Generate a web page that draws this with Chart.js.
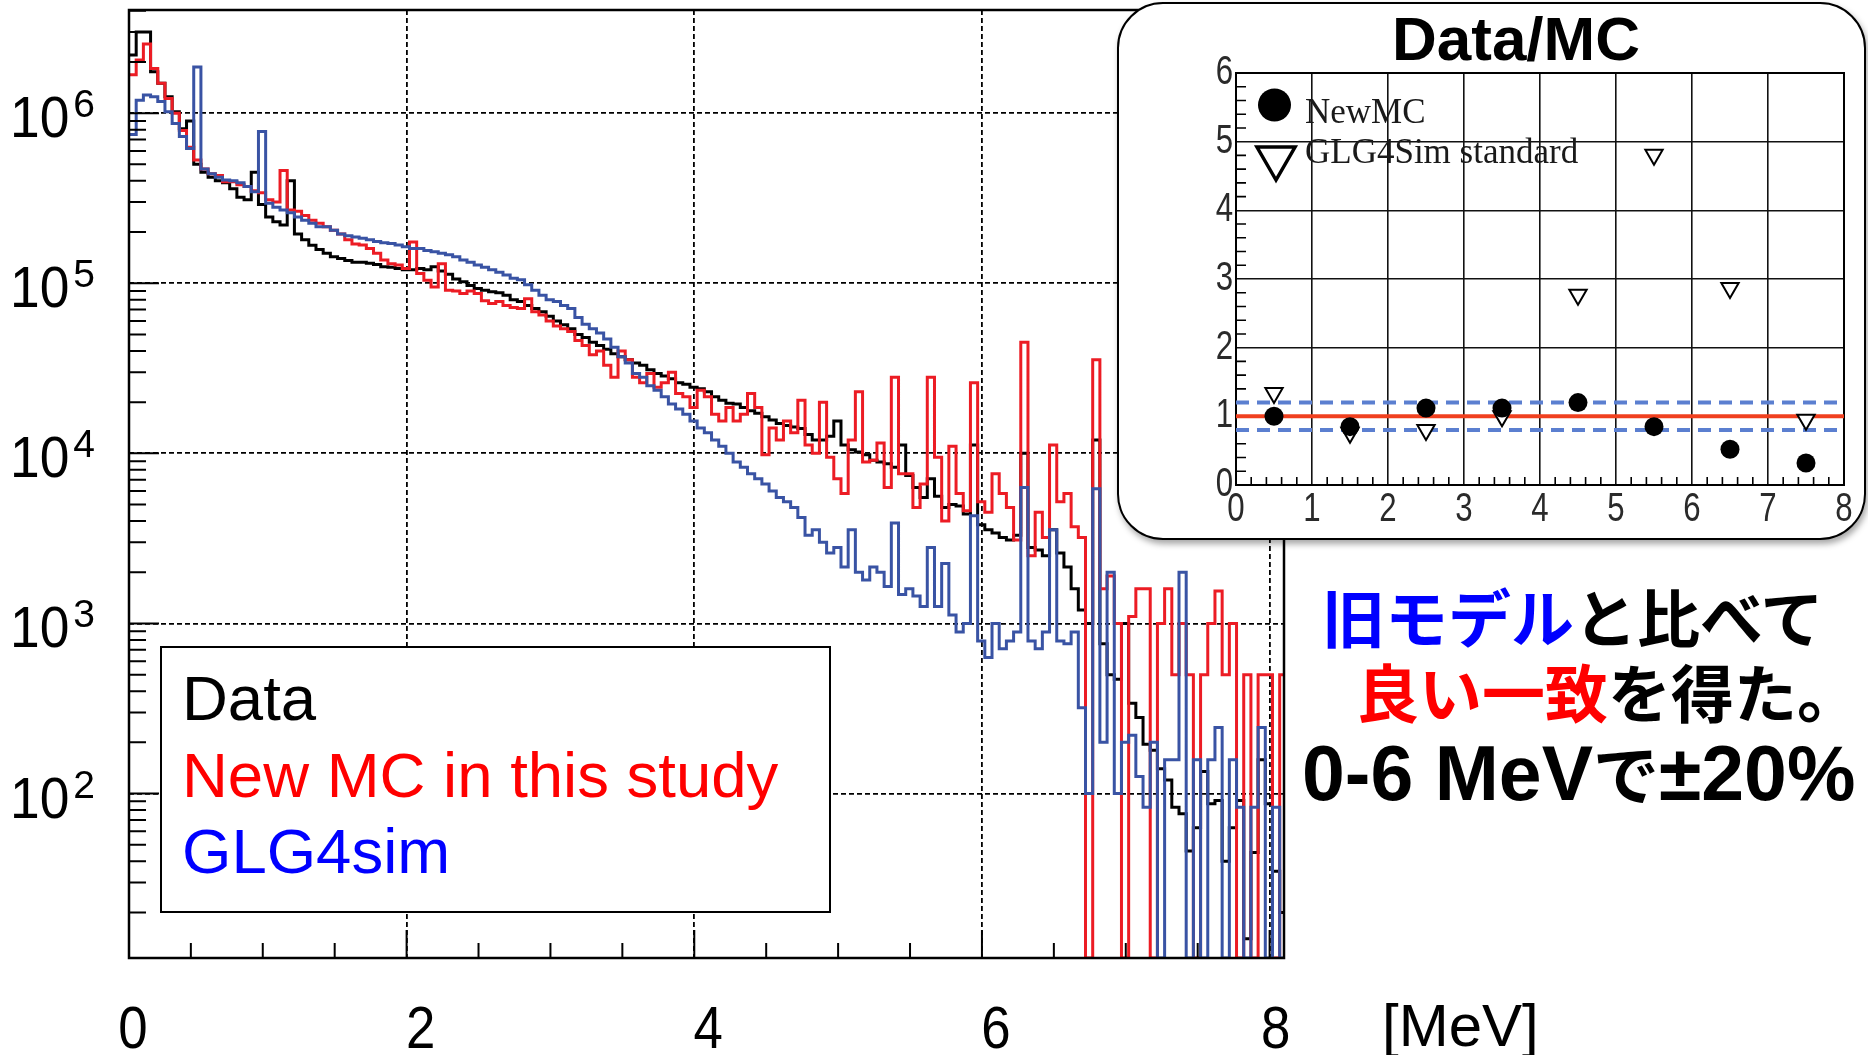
<!DOCTYPE html>
<html lang="ja">
<head>
<meta charset="UTF-8">
<title>Energy spectrum: Data vs MC</title>
<script src="https://cdn.jsdelivr.net/npm/chart.js"></script>
<style>
  body { margin: 0; width: 1868px; height: 1055px; position: relative; overflow: hidden; background: #fff; }
  #spectrum { position: absolute; left: 0; top: 0; }
  #ratioBox {
    position: absolute; left: 1117px; top: 2px; width: 745px; height: 534px;
    border: 2px solid #000; border-radius: 46px; background: #fff;
    box-shadow: 2px 4px 6px rgba(0, 0, 0, 0.35);
  }
  #ratio { position: absolute; left: 1117px; top: 2px; }
  .note { position: absolute; white-space: nowrap; font-weight: bold; color: #000; }
  .jp { font-family: "Noto Sans CJK JP", sans-serif; font-size: 63px; line-height: 63px; }
  .mixed { font-family: "Liberation Sans", "Noto Sans CJK JP", sans-serif; font-size: 77px; line-height: 77px; }
  .blue { color: #0000ff; }
  .red { color: #ff0000; }
</style>
</head>
<body>
<canvas id="spectrum" width="1868" height="1055"></canvas>
<div id="ratioBox"></div>
<canvas id="ratio" width="749" height="538"></canvas>
<div class="note jp" style="left:1322px; top:583px;"><span class="blue">旧モデル</span>と比べて</div>
<div class="note jp" style="left:1356px; top:658px;"><span class="red">良い一致</span>を得た。</div>
<div class="note mixed" style="left:1302px; top:733px;">0-6 MeV<span style="font-family:'Noto Sans CJK JP'; font-size:66px;">で</span>±20%</div>

<script>
// Energy binning of the spectra (MeV)
const binStart = 0.07;
const binWidth = 0.05;

// Counts per bin, 0 = empty bin
const dataCounts = [
  2.2e6, 3.0e6, 3.0e6, 1.75e6, 1.5e6, 1.25e6, 1.02e6, 8.1e5, 9.0e5, 5.0e5,
  4.5e5, 4.2e5, 4.0e5, 3.9e5, 3.6e5, 3.2e5, 3.1e5, 4.5e5, 2.9e5, 2.45e5,
  2.3e5, 2.2e5, 4.0e5, 1.95e5, 1.8e5, 1.67e5, 1.58e5, 1.5e5, 1.43e5, 1.4e5,
  1.36e5, 1.33e5, 1.33e5, 1.31e5, 1.29e5, 1.25e5, 1.24e5, 1.22e5, 1.2e5, 1.2e5,
  1.22e5, 1.2e5, 1.25e5, 1.18e5, 1.13e5, 1.06e5, 1.02e5, 9.7e4, 9.3e4, 9.1e4,
  8.9e4, 8.8e4, 8.5e4, 8.0e4, 7.8e4, 7.4e4, 7.1e4, 6.8e4, 6.4e4, 6.0e4,
  5.7e4, 5.4e4, 5.0e4, 4.8e4, 4.5e4, 4.3e4, 4.1e4, 3.85e4, 3.7e4, 3.55e4,
  3.4e4, 3.3e4, 3.1e4, 2.95e4, 2.85e4, 2.75e4, 2.6e4, 2.55e4, 2.45e4, 2.4e4,
  2.3e4, 2.15e4, 2.05e4, 1.97e4, 1.95e4, 1.86e4, 1.78e4, 1.72e4, 1.64e4, 1.57e4,
  1.5e4, 1.46e4, 1.43e4, 1.4e4, 1.29e4, 1.2e4, 1.2e4, 1.26e4, 1.55e4, 1.12e4,
  1.05e4, 1.02e4, 9.8e3, 9.1e3, 8.9e3, 8.7e3, 8.3e3, 1.12e4, 7.4e3, 6.3e3,
  5.5e3, 7.1e3, 5.6e3, 4.8e3, 5.0e3, 4.9e3, 4.4e3, 1.12e4, 3.8e3, 3.55e3,
  3.4e3, 3.2e3, 3.1e3, 3.3e3, 1.0e4, 2.8e3, 2.7e3, 2.5e3, 3.55e3, 2.6e3,
  2.15e3, 1.6e3, 1.2e3, 1.0e3, 1.2e4, 760, 500, 470, 1000, 340,
  280, 195, 180, 140, 120, 83, 76, 46, 63, 135,
  87, 91, 40, 63, 91, 14, 45, 158, 87, 35, 20
];

const newMcCounts = [
  1.68e6, 2.05e6, 2.55e6, 1.83e6, 1.5e6, 1.22e6, 1.0e6, 7.9e5, 6.3e5, 5.3e5,
  4.7e5, 4.4e5, 4.3e5, 3.95e5, 3.95e5, 3.8e5, 3.7e5, 3.5e5, 3.4e5, 3.1e5,
  3.0e5, 4.6e5, 2.7e5, 2.65e5, 2.5e5, 2.35e5, 2.25e5, 2.15e5, 2.05e5, 1.95e5,
  1.8e5, 1.7e5, 1.68e5, 1.6e5, 1.5e5, 1.37e5, 1.3e5, 1.28e5, 1.22e5, 1.75e5,
  1.14e5, 1.04e5, 9.5e4, 1.3e5, 9.1e4, 9.0e4, 8.7e4, 9.0e4, 8.7e4, 7.9e4,
  7.6e4, 7.8e4, 7.4e4, 7.2e4, 7.1e4, 8.1e4, 6.8e4, 6.5e4, 6.0e4, 5.6e4,
  5.4e4, 5.2e4, 4.6e4, 4.3e4, 3.8e4, 4.0e4, 3.3e4, 2.8e4, 4.0e4, 3.55e4,
  2.8e4, 2.6e4, 2.95e4, 2.45e4, 2.6e4, 3.0e4, 2.25e4, 2.15e4, 1.86e4, 2.35e4,
  2.15e4, 1.7e4, 1.55e4, 1.86e4, 1.55e4, 1.7e4, 2.25e4, 1.86e4, 9.8e3, 1.41e4,
  1.2e4, 1.55e4, 1.32e4, 2.05e4, 1.12e4, 1.0e4, 2.0e4, 9.5e3, 7.1e3, 5.8e3,
  1.2e4, 2.3e4, 8.9e3, 9.1e3, 1.15e4, 6.3e3, 2.8e4, 7.6e3, 7.6e3, 4.8e3,
  6.6e3, 2.8e4, 9.5e3, 4.0e3, 1.1e4, 5.8e3, 4.6e3, 2.6e4, 5.2e3, 4.5e3,
  7.6e3, 5.8e3, 4.8e3, 3.1e3, 4.5e4, 2.5e3, 4.5e3, 3.2e3, 1.12e4, 5.2e3,
  5.8e3, 3.7e3, 3.2e3, 0, 3.55e4, 1.6e3, 1.9e3, 1.0e3, 0, 1.1e3,
  1.6e3, 1.6e3, 0, 1.0e3, 1.6e3, 500, 1.0e3, 500, 0, 500,
  1.0e3, 1.55e3, 500, 1.0e3, 0, 500, 0, 500, 500, 0, 500
];

const glg4Counts = [
  7.5e5, 1.19e6, 1.28e6, 1.25e6, 1.17e6, 1.02e6, 8.7e5, 7.3e5, 6.2e5, 1.87e6,
  4.7e5, 4.4e5, 4.2e5, 4.05e5, 4.0e5, 3.9e5, 3.7e5, 3.45e5, 7.8e5, 2.95e5,
  2.8e5, 2.7e5, 2.6e5, 2.45e5, 2.35e5, 2.25e5, 2.15e5, 2.15e5, 2.05e5, 1.95e5,
  1.9e5, 1.87e5, 1.84e5, 1.8e5, 1.76e5, 1.73e5, 1.71e5, 1.68e5, 1.64e5, 1.6e5,
  1.6e5, 1.56e5, 1.53e5, 1.5e5, 1.47e5, 1.43e5, 1.37e5, 1.33e5, 1.28e5, 1.24e5,
  1.2e5, 1.16e5, 1.12e5, 1.07e5, 1.05e5, 9.8e4, 9.1e4, 8.5e4, 8.0e4, 7.8e4,
  7.4e4, 7.1e4, 6.3e4, 5.75e4, 5.4e4, 5.1e4, 4.7e4, 4.2e4, 3.7e4, 3.4e4,
  2.95e4, 2.8e4, 2.5e4, 2.35e4, 2.15e4, 1.95e4, 1.82e4, 1.7e4, 1.55e4, 1.41e4,
  1.32e4, 1.2e4, 1.1e4, 1.0e4, 8.9e3, 8.3e3, 7.6e3, 7.1e3, 6.6e3, 6.0e3,
  5.5e3, 5.2e3, 4.8e3, 4.2e3, 3.3e3, 3.55e3, 3.0e3, 2.6e3, 2.8e3, 2.15e3,
  3.55e3, 2.0e3, 1.8e3, 2.15e3, 2.0e3, 1.65e3, 3.9e3, 1.48e3, 1.6e3, 1.45e3,
  1.26e3, 2.8e3, 1.26e3, 2.25e3, 1.12e3, 890, 1.0e3, 4.3e3, 790, 630,
  1.0e3, 710, 790, 890, 6.3e3, 790, 710, 890, 3.55e3, 790,
  760, 890, 320, 100, 6.2e3, 200, 2.0e3, 100, 200, 220,
  126, 83, 200, 0, 158, 158, 2.0e3, 0, 158, 0,
  158, 245, 0, 158, 83, 0, 83, 245, 0, 83, 0
];

const seriesLabels = ['Data', 'New MC in this study', 'GLG4sim'];
const lineColors = ['#000000', '#ec1c24', '#3953a4'];
const labelColors = ['#000000', '#ff0000', '#0000ff'];

const xTickValues = [0, 2, 4, 6, 8];
const xGridValues = [2, 4, 6, 8];
const yTickExponents = [2, 3, 4, 5, 6];

const X_MIN = 0.07, X_MAX = 8.1;
const Y_MIN = 10.8, Y_MAX = 4.04e6;

// Data/MC ratio in 1 MeV bins
const ratioCenters = [0.5, 1.5, 2.5, 3.5, 4.5, 5.5, 6.5, 7.5];
const ratioNewMc = [1.0, 0.85, 1.12, 1.12, 1.2, 0.85, 0.52, 0.32];
const ratioGlg4 = [1.34, 0.76, 0.8, 1.0, 2.77, 4.81, 2.87, 0.95];
const ratioLabels = ['NewMC', 'GLG4Sim standard'];
const agreement = 1.0;
const band = 0.2;

const SANS = '"Liberation Sans", Arial, sans-serif';

function histPoints(counts) {
  const pts = counts.map((c, i) => ({ x: binStart + i * binWidth, y: c > 0 ? c : Y_MIN }));
  pts.push({ x: binStart + counts.length * binWidth, y: pts[pts.length - 1].y });
  return pts;
}

function squeezed(ctx, text, x, y, sx, align) {
  ctx.save();
  ctx.translate(x, y);
  ctx.scale(sx, 1);
  ctx.textAlign = align;
  ctx.fillText(text, 0, 0);
  ctx.restore();
}

// frame, log ticks, legend box and axis labels of the spectrum
const spectrumDecor = {
  id: 'spectrumDecor',
  afterDatasetsDraw(chart) {
    const { ctx, chartArea: a, scales: { x, y } } = chart;
    ctx.save();
    ctx.strokeStyle = '#000';
    ctx.lineWidth = 2;
    ctx.beginPath();
    for (let e = 1; e <= 6; e++) {
      for (let m = 1; m <= 9; m++) {
        const v = m * Math.pow(10, e);
        if (v < Y_MIN || v > Y_MAX) continue;
        const py = y.getPixelForValue(v);
        ctx.moveTo(a.left, py);
        ctx.lineTo(a.left + (m === 1 ? 30 : 17), py);
      }
    }
    for (let k = 1; k <= 16; k++) {
      const px = x.getPixelForValue(k * 0.5);
      ctx.moveTo(px, a.bottom);
      ctx.lineTo(px, a.bottom - (k % 4 === 0 ? 28 : 15));
    }
    ctx.stroke();
    ctx.lineWidth = 2.5;
    ctx.strokeRect(a.left, a.top, a.right - a.left, a.bottom - a.top);

    // legend
    const box = { left: 161, top: 647, width: 669, height: 265 };
    ctx.fillStyle = '#fff';
    ctx.fillRect(box.left, box.top, box.width, box.height);
    ctx.lineWidth = 2;
    ctx.strokeRect(box.left, box.top, box.width, box.height);
    ctx.font = '63.5px ' + SANS;
    ctx.textAlign = 'left';
    ctx.textBaseline = 'alphabetic';
    chart.data.datasets.forEach((ds, i) => {
      ctx.fillStyle = labelColors[i];
      ctx.fillText(ds.label, box.left + 21, box.top + 73 + i * 76.5);
    });
    ctx.restore();
  },
  afterDraw(chart) {
    const { ctx, scales: { x, y } } = chart;
    ctx.save();
    ctx.fillStyle = '#000';
    ctx.textBaseline = 'alphabetic';
    ctx.font = '60px ' + SANS;
    xTickValues.forEach(v => squeezed(ctx, String(v), x.getPixelForValue(v) + (v === 8 ? 6 : 14), 1048, 0.88, 'center'));
    ctx.textAlign = 'left';
    ctx.fillText('[MeV]', 1382, 1046);
    yTickExponents.forEach(p => {
      const py = y.getPixelForValue(Math.pow(10, p));
      ctx.font = '58px ' + SANS;
      const w = ctx.measureText('10').width * 0.92;
      squeezed(ctx, '10', 10, py + 24, 0.92, 'left');
      ctx.font = '39px ' + SANS;
      ctx.textAlign = 'left';
      ctx.fillText(String(p), 10 + w + 4, py + 4);
    });
    ctx.restore();
  }
};

const countsList = [dataCounts, newMcCounts, glg4Counts];

new Chart(document.getElementById('spectrum'), {
  type: 'line',
  data: {
    datasets: countsList.map((counts, i) => ({
      label: seriesLabels[i],
      data: histPoints(counts),
      borderColor: lineColors[i],
      order: 3 - i
    }))
  },
  options: {
    responsive: false,
    animation: false,
    layout: { padding: { left: 129, top: 10, right: 584, bottom: 97 } },
    elements: {
      line: { borderWidth: 3, stepped: 'before', tension: 0, fill: false },
      point: { radius: 0, hoverRadius: 0 }
    },
    plugins: { legend: { display: false }, tooltip: { enabled: false } },
    scales: {
      x: {
        type: 'linear', min: X_MIN, max: X_MAX,
        afterBuildTicks: s => { s.ticks = xGridValues.map(v => ({ value: v })); },
        ticks: { display: false },
        grid: { color: '#000', lineWidth: 1.8, drawTicks: false },
        border: { display: false, dash: [5, 3] },
        afterFit: s => { s.height = 0; }
      },
      y: {
        type: 'logarithmic', min: Y_MIN, max: Y_MAX,
        afterBuildTicks: s => { s.ticks = yTickExponents.map(p => ({ value: Math.pow(10, p) })); },
        ticks: { display: false },
        grid: { color: '#000', lineWidth: 1.8, drawTicks: false },
        border: { display: false, dash: [5, 3] },
        afterFit: s => { s.width = 0; }
      }
    }
  },
  plugins: [spectrumDecor]
});

// inset: frame, minor ticks, labels, legend and title
const ratioDecor = {
  id: 'ratioDecor',
  beforeDatasetsDraw(chart) {
    const { ctx, chartArea: a, scales: { x, y } } = chart;
    ctx.save();
    ctx.strokeStyle = '#000';
    ctx.lineWidth = 1.6;
    ctx.beginPath();
    for (let k = 1; k < 30; k++) {
      if (k % 5 === 0) continue;
      const py = y.getPixelForValue(k * 0.2);
      ctx.moveTo(a.left, py);
      ctx.lineTo(a.left + 10, py);
    }
    for (let k = 1; k < 40; k++) {
      if (k % 5 === 0) continue;
      const px = x.getPixelForValue(k * 0.2);
      ctx.moveTo(px, a.bottom);
      ctx.lineTo(px, a.bottom - 8);
    }
    ctx.stroke();
    ctx.lineWidth = 2;
    ctx.strokeRect(a.left, a.top, a.right - a.left, a.bottom - a.top);
    ctx.restore();
  },
  afterDraw(chart) {
    const { ctx, scales: { x, y } } = chart;
    ctx.save();
    ctx.fillStyle = '#2a2a2a';
    ctx.font = '40px ' + SANS;
    ctx.textBaseline = 'middle';
    for (let v = 0; v <= 6; v++) squeezed(ctx, String(v), 116, y.getPixelForValue(v), 0.78, 'right');
    ctx.textBaseline = 'alphabetic';
    for (let v = 0; v <= 8; v++) squeezed(ctx, String(v), x.getPixelForValue(v), 519, 0.78, 'center');

    // legend
    ctx.fillStyle = '#000';
    ctx.beginPath();
    ctx.arc(157.5, 103, 16.5, 0, Math.PI * 2);
    ctx.fill();
    const tx = 159, ty = 156, r = 22;
    ctx.beginPath();
    ctx.moveTo(tx, ty + r);
    ctx.lineTo(tx - r * 0.866, ty - r / 2);
    ctx.lineTo(tx + r * 0.866, ty - r / 2);
    ctx.closePath();
    ctx.lineWidth = 3.5;
    ctx.lineJoin = 'miter';
    ctx.strokeStyle = '#000';
    ctx.stroke();
    ctx.fillStyle = '#1a1a1a';
    ctx.font = '35px "Liberation Serif", "Times New Roman", serif';
    ctx.textAlign = 'left';
    ctx.fillText(ratioLabels[0], 188, 121);
    ctx.fillText(ratioLabels[1], 188, 161);

    ctx.fillStyle = '#000';
    ctx.font = 'bold 62px ' + SANS;
    ctx.textAlign = 'center';
    ctx.fillText('Data/MC', 399, 58);
    ctx.restore();
  }
};

const flatLine = (value, color, dash) => ({
  type: 'line',
  data: [{ x: 0, y: value }, { x: 8, y: value }],
  borderColor: color,
  borderWidth: 4,
  borderDash: dash,
  pointRadius: 0,
  order: 2
});

new Chart(document.getElementById('ratio'), {
  type: 'scatter',
  data: {
    datasets: [
      {
        label: ratioLabels[0],
        data: ratioCenters.map((c, i) => ({ x: c, y: ratioNewMc[i] })),
        pointStyle: 'circle', pointRadius: 9.5,
        pointBackgroundColor: '#000', pointBorderColor: '#000', pointBorderWidth: 0,
        order: 0
      },
      {
        label: ratioLabels[1],
        data: ratioCenters.map((c, i) => ({ x: c, y: ratioGlg4[i] })),
        pointStyle: 'triangle', pointRotation: 180, pointRadius: 10,
        pointBackgroundColor: '#fff', pointBorderColor: '#000', pointBorderWidth: 2,
        order: 1
      },
      flatLine(agreement, '#f0401f', []),
      flatLine(agreement + band, '#5b7fd0', [13, 8]),
      flatLine(agreement - band, '#5b7fd0', [13, 8])
    ]
  },
  options: {
    responsive: false,
    animation: false,
    layout: { padding: { left: 119, top: 71, right: 22, bottom: 55 } },
    plugins: { legend: { display: false }, tooltip: { enabled: false } },
    scales: {
      x: {
        type: 'linear', min: 0, max: 8,
        ticks: { display: false, stepSize: 1 },
        grid: { color: '#111', lineWidth: 1.6, drawTicks: false },
        border: { display: false },
        afterFit: s => { s.height = 0; }
      },
      y: {
        type: 'linear', min: 0, max: 6,
        ticks: { display: false, stepSize: 1 },
        grid: { color: '#111', lineWidth: 1.6, drawTicks: false },
        border: { display: false },
        afterFit: s => { s.width = 0; }
      }
    }
  },
  plugins: [ratioDecor]
});
</script>
</body>
</html>
